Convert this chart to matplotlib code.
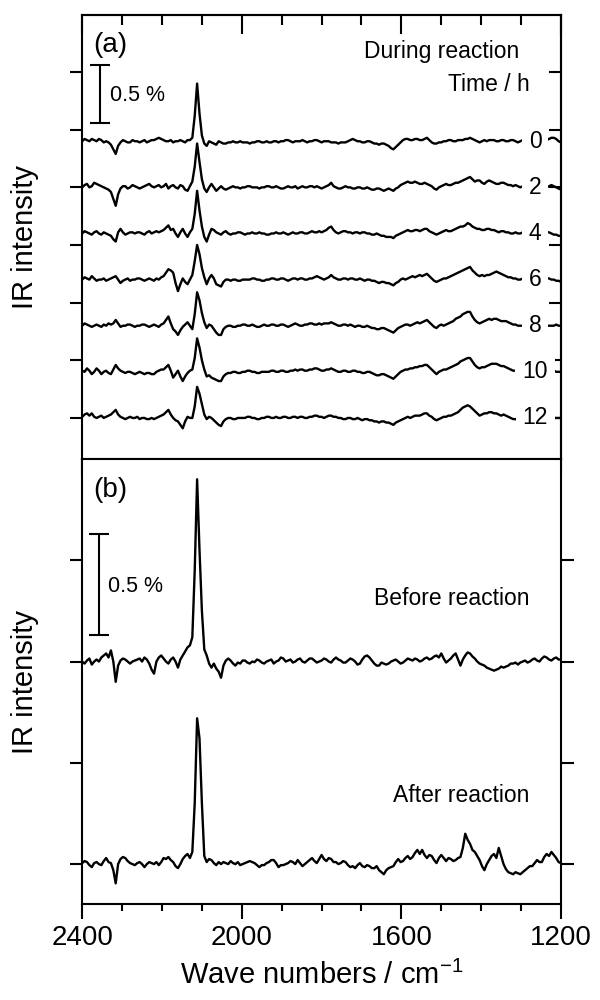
import numpy as np
import matplotlib
matplotlib.use('Agg')
import matplotlib.pyplot as plt
from matplotlib.ticker import MultipleLocator, FixedLocator

plt.rcParams['font.family'] = ['Liberation Sans', 'DejaVu Sans']
plt.rcParams['mathtext.default'] = 'regular'

# wave number grid (cm-1), one point every 6 cm-1
wn = np.arange(2400, 1199, -6)

times = ['0', '2', '4', '6', '8', '10', '12']

# panel (a): IR intensity (%) during reaction
trace_0 = [0.00, 0.02, 0.01, 0.00, 0.02, 0.01, 0.00, 0.02, 0.01, -0.01,
           0.00, -0.01, -0.03, -0.07, -0.11, -0.04, -0.01, 0.01, 0.00, -0.01,
           -0.01, 0.01, 0.00, 0.00, -0.01, 0.00, 0.01, -0.01, 0.00, 0.01,
           0.01, 0.02, 0.03, 0.02, 0.01, 0.00, 0.00, 0.01, -0.01, 0.00,
           0.00, 0.01, 0.00, -0.01, 0.01, 0.01, 0.03, 0.22, 0.50, 0.24,
           0.05, -0.02, -0.04, 0.00, -0.01, -0.02, -0.03, 0.00, -0.01, -0.02,
           -0.02, -0.01, -0.01, 0.00, -0.01, -0.01, 0.00, -0.01, -0.01, -0.01,
           -0.02, -0.01, -0.01, 0.00, 0.00, -0.01, -0.01, 0.00, -0.01, -0.01,
           0.00, 0.00, -0.01, 0.00, 0.00, 0.01, 0.01, 0.00, -0.01, 0.00,
           0.00, 0.00, 0.01, 0.00, -0.01, 0.00, 0.00, 0.01, 0.01, 0.00,
           -0.01, 0.00, 0.00, 0.00, -0.01, -0.01, -0.01, -0.02, -0.01, -0.01,
           -0.01, 0.00, 0.01, 0.02, 0.01, 0.00, 0.00, -0.01, -0.01, 0.00,
           0.00, -0.01, -0.02, -0.02, -0.03, -0.02, -0.02, -0.03, -0.04, -0.06,
           -0.07, -0.05, -0.03, -0.01, 0.01, 0.02, 0.02, 0.01, 0.01, 0.02,
           0.02, 0.01, 0.01, 0.02, 0.03, 0.01, -0.01, -0.02, -0.02, -0.01,
           -0.01, 0.00, 0.00, 0.01, 0.01, 0.00, 0.00, 0.01, 0.01, 0.01,
           0.02, 0.02, 0.03, 0.02, 0.01, 0.00, -0.01, 0.00, 0.01, 0.00,
           0.01, 0.01, 0.01, 0.00, 0.00, 0.01, 0.01, 0.00, 0.00, 0.01,
           0.01, 0.00, -0.01, 0.00, 0.01, 0.01, 0.00, -0.01, 0.00, 0.01,
           0.00, 0.00, 0.01, 0.00, 0.01, 0.02, 0.03, 0.03, 0.02, 0.00,
           -0.01]
trace_2 = [0.00, 0.02, 0.03, 0.00, 0.01, 0.04, 0.03, 0.02, 0.01, 0.00,
           -0.01, -0.02, -0.04, -0.10, -0.16, -0.06, -0.01, 0.01, 0.01, -0.01,
           0.00, 0.02, 0.01, 0.00, -0.01, 0.00, 0.01, 0.02, 0.03, 0.01,
           0.00, 0.01, 0.02, 0.00, 0.01, 0.03, -0.01, 0.01, 0.02, 0.00,
           -0.01, 0.02, 0.01, -0.02, -0.03, 0.01, 0.05, 0.18, 0.38, 0.22,
           0.07, -0.01, -0.04, 0.00, 0.03, 0.00, -0.03, -0.01, 0.01, -0.01,
           -0.02, -0.01, 0.00, 0.01, 0.00, 0.00, -0.01, 0.00, 0.00, 0.01,
           0.01, 0.00, 0.00, 0.00, -0.01, 0.00, 0.00, 0.01, 0.01, 0.00,
           0.00, 0.01, 0.00, -0.01, -0.01, 0.00, 0.01, 0.00, 0.00, 0.01,
           -0.01, 0.00, 0.01, 0.00, 0.00, 0.01, 0.01, 0.00, 0.01, 0.00,
           -0.01, 0.00, 0.01, 0.02, 0.04, 0.01, 0.00, -0.01, -0.01, 0.00,
           0.01, 0.00, 0.00, -0.01, -0.01, 0.00, 0.00, -0.01, -0.01, 0.00,
           -0.01, -0.02, -0.02, -0.01, -0.01, -0.02, -0.03, -0.02, -0.01, -0.02,
           -0.03, -0.01, 0.00, 0.02, 0.03, 0.04, 0.05, 0.04, 0.04, 0.05,
           0.04, 0.03, 0.03, 0.04, 0.03, 0.02, 0.01, -0.01, -0.02, 0.00,
           0.01, 0.02, 0.03, 0.02, 0.02, 0.03, 0.04, 0.04, 0.05, 0.06,
           0.07, 0.08, 0.09, 0.07, 0.05, 0.06, 0.06, 0.04, 0.03, 0.05,
           0.06, 0.05, 0.04, 0.03, 0.03, 0.04, 0.04, 0.03, 0.02, 0.02,
           0.01, 0.02, 0.01, 0.00, 0.01, 0.00, -0.01, 0.00, 0.01, 0.00,
           0.00, 0.01, 0.00, -0.01, 0.00, 0.01, 0.02, 0.01, 0.00, -0.01,
           -0.02]
trace_4 = [0.00, 0.02, 0.01, 0.00, -0.01, 0.01, 0.02, 0.00, -0.01, 0.01,
           0.00, -0.01, -0.02, -0.05, -0.07, 0.01, 0.04, 0.01, -0.01, 0.00,
           0.01, 0.01, 0.00, 0.01, 0.01, 0.00, -0.01, 0.01, 0.02, 0.00,
           0.01, 0.02, 0.01, 0.02, 0.03, 0.05, 0.07, 0.03, 0.04, 0.00,
           -0.03, 0.01, 0.04, 0.00, -0.03, 0.01, 0.04, 0.17, 0.37, 0.20,
           0.06, -0.03, -0.07, -0.01, 0.04, 0.03, 0.01, 0.00, -0.01, 0.01,
           0.02, 0.00, -0.01, 0.00, 0.00, 0.01, 0.01, 0.00, -0.01, 0.00,
           0.00, 0.01, 0.00, 0.00, 0.01, 0.00, 0.00, -0.01, -0.01, 0.00,
           0.00, 0.01, 0.00, 0.00, 0.01, 0.00, -0.01, 0.00, 0.01, 0.00,
           0.00, 0.01, 0.01, 0.00, 0.00, 0.01, 0.02, 0.01, 0.01, 0.02,
           0.01, 0.02, 0.03, 0.05, 0.06, 0.03, 0.01, 0.00, 0.01, 0.02,
           0.02, 0.01, 0.01, 0.00, 0.01, 0.01, 0.00, 0.01, 0.01, 0.00,
           0.00, -0.01, -0.01, 0.00, -0.01, -0.02, -0.02, -0.03, -0.03, -0.03,
           -0.04, -0.02, -0.01, 0.00, 0.01, 0.02, 0.03, 0.02, 0.02, 0.03,
           0.03, 0.02, 0.03, 0.04, 0.04, 0.02, 0.01, 0.00, -0.01, 0.00,
           0.01, 0.02, 0.03, 0.02, 0.02, 0.03, 0.04, 0.05, 0.06, 0.06,
           0.07, 0.09, 0.08, 0.06, 0.05, 0.04, 0.04, 0.03, 0.03, 0.04,
           0.04, 0.03, 0.03, 0.02, 0.01, 0.02, 0.02, 0.01, 0.01, 0.00,
           0.00, 0.01, 0.00, 0.00, 0.01, 0.00, 0.00, 0.01, 0.00, -0.01,
           0.00, 0.01, 0.00, 0.00, 0.01, 0.01, 0.00, -0.01, -0.01, -0.02,
           -0.02]
trace_6 = [0.00, 0.02, 0.01, 0.00, 0.03, 0.01, -0.01, 0.00, 0.00, 0.01,
           -0.01, 0.00, 0.01, 0.02, 0.03, 0.00, -0.03, -0.01, 0.00, 0.01,
           -0.01, 0.00, 0.00, 0.01, 0.01, 0.00, -0.01, 0.00, 0.01, 0.00,
           -0.01, 0.01, 0.00, 0.02, 0.03, 0.06, 0.09, 0.08, 0.06, -0.03,
           -0.10, -0.04, 0.01, -0.02, -0.04, 0.00, 0.04, 0.16, 0.30, 0.22,
           0.10, 0.02, -0.04, 0.01, 0.04, 0.01, -0.04, -0.05, -0.06, -0.02,
           0.00, 0.00, -0.01, 0.00, 0.00, -0.01, -0.01, 0.00, 0.00, 0.00,
           0.00, 0.01, 0.01, 0.00, 0.00, -0.01, -0.01, 0.00, 0.00, 0.01,
           0.01, 0.00, 0.00, 0.01, 0.01, 0.00, -0.01, 0.00, 0.01, 0.01,
           0.00, 0.01, 0.01, 0.00, 0.00, 0.01, 0.01, 0.02, 0.03, 0.02,
           0.01, 0.00, 0.01, 0.02, 0.04, 0.02, 0.01, 0.00, 0.00, 0.01,
           0.01, 0.00, 0.01, 0.01, 0.00, 0.00, 0.01, 0.00, -0.01, 0.00,
           0.00, -0.01, -0.01, -0.02, -0.03, -0.02, -0.02, -0.03, -0.03, -0.04,
           -0.05, -0.03, -0.02, 0.00, 0.01, 0.00, 0.01, 0.02, 0.03, 0.02,
           0.03, 0.04, 0.03, 0.04, 0.05, 0.03, 0.01, -0.01, -0.02, -0.01,
           0.00, 0.01, 0.01, 0.02, 0.03, 0.04, 0.05, 0.06, 0.07, 0.08,
           0.09, 0.10, 0.11, 0.08, 0.06, 0.04, 0.03, 0.04, 0.03, 0.04,
           0.04, 0.05, 0.06, 0.07, 0.06, 0.05, 0.04, 0.03, 0.02, 0.02,
           0.01, 0.01, 0.00, 0.00, 0.01, 0.00, -0.01, 0.00, 0.01, 0.00,
           -0.01, 0.00, 0.01, 0.00, 0.01, 0.01, 0.00, 0.00, -0.01, -0.01,
           -0.02]
trace_8 = [0.00, 0.02, 0.01, 0.00, -0.01, 0.00, 0.01, 0.00, -0.01, 0.01,
           0.00, 0.02, 0.01, 0.02, 0.05, 0.02, -0.01, 0.00, 0.00, 0.01,
           0.01, 0.00, -0.01, 0.00, 0.00, 0.01, 0.01, 0.00, -0.01, 0.00,
           0.01, 0.00, -0.01, 0.01, 0.02, 0.05, 0.08, 0.02, -0.03, -0.05,
           -0.08, -0.04, -0.01, 0.01, 0.03, 0.00, -0.03, 0.10, 0.29, 0.22,
           0.11, 0.03, -0.02, 0.01, 0.00, -0.03, -0.06, -0.08, -0.08, -0.03,
           -0.01, 0.00, 0.00, -0.01, -0.01, 0.00, 0.00, 0.01, 0.01, 0.00,
           0.00, 0.01, 0.00, -0.01, -0.01, 0.00, 0.01, 0.00, 0.00, 0.01,
           0.01, 0.00, 0.00, 0.01, 0.01, 0.00, -0.01, 0.00, 0.01, 0.02,
           0.01, 0.00, 0.00, 0.01, 0.01, 0.02, 0.02, 0.01, 0.01, 0.02,
           0.01, 0.02, 0.02, 0.02, 0.03, 0.02, 0.01, 0.00, 0.00, 0.01,
           0.01, 0.00, 0.01, 0.00, -0.01, 0.00, 0.00, -0.01, -0.01, 0.00,
           -0.01, -0.02, -0.02, -0.03, -0.03, -0.02, -0.02, -0.03, -0.04, -0.05,
           -0.06, -0.04, -0.02, -0.01, 0.00, 0.01, 0.01, 0.00, 0.01, 0.02,
           0.03, 0.02, 0.03, 0.04, 0.05, 0.03, 0.01, -0.01, -0.02, 0.00,
           0.01, 0.00, 0.01, 0.02, 0.03, 0.04, 0.06, 0.07, 0.08, 0.10,
           0.11, 0.12, 0.12, 0.08, 0.05, 0.03, 0.02, 0.03, 0.04, 0.05,
           0.06, 0.05, 0.06, 0.06, 0.05, 0.04, 0.04, 0.04, 0.03, 0.02,
           0.01, 0.01, 0.00, 0.00, 0.00, 0.01, 0.00, -0.01, 0.00, 0.00,
           0.01, 0.00, 0.00, 0.01, 0.00, 0.00, 0.00, 0.00, 0.01, 0.00,
           0.00]
trace_10 = [0.01, 0.00, 0.03, 0.01, -0.02, 0.00, 0.03, 0.01, -0.02, 0.00,
            0.01, -0.01, -0.02, 0.02, 0.06, 0.03, 0.01, 0.00, -0.01, 0.00,
            0.00, -0.01, -0.02, -0.01, 0.00, -0.01, -0.02, -0.01, -0.01, -0.02,
            -0.02, 0.00, 0.01, 0.02, 0.02, 0.04, 0.06, 0.01, -0.05, -0.02,
            0.01, -0.04, -0.08, -0.04, -0.01, 0.01, 0.02, 0.12, 0.29, 0.21,
            0.10, 0.02, -0.04, -0.03, -0.05, -0.06, -0.07, -0.08, -0.08, -0.04,
            -0.02, -0.01, -0.01, 0.00, 0.00, -0.01, -0.01, 0.00, 0.00, 0.01,
            0.01, 0.00, 0.00, -0.01, -0.01, 0.00, 0.00, 0.00, 0.00, 0.01,
            0.01, 0.00, 0.00, 0.01, 0.01, 0.00, 0.00, 0.01, 0.01, 0.02,
            0.01, 0.02, 0.02, 0.01, 0.01, 0.02, 0.02, 0.03, 0.03, 0.02,
            0.01, 0.01, 0.02, 0.02, 0.03, 0.02, 0.01, 0.00, 0.00, 0.01,
            0.01, 0.00, 0.00, 0.01, 0.01, 0.00, 0.00, -0.01, -0.01, 0.00,
            0.00, -0.01, -0.02, -0.03, -0.03, -0.02, -0.02, -0.03, -0.04, -0.05,
            -0.06, -0.04, -0.02, 0.00, 0.01, 0.02, 0.02, 0.03, 0.03, 0.04,
            0.04, 0.05, 0.05, 0.06, 0.06, 0.04, 0.02, 0.00, -0.02, 0.00,
            0.01, 0.02, 0.02, 0.03, 0.04, 0.05, 0.06, 0.07, 0.09, 0.10,
            0.11, 0.12, 0.12, 0.09, 0.06, 0.04, 0.03, 0.04, 0.04, 0.05,
            0.06, 0.07, 0.07, 0.07, 0.06, 0.05, 0.05, 0.04, 0.03, 0.02,
            0.01, 0.01, 0.00, 0.00, 0.00, 0.01, 0.00, -0.01, 0.00, 0.00,
            0.01, 0.00, 0.00, 0.01, 0.00, 0.00, 0.00, 0.01, 0.00, 0.00,
            0.00]
trace_12 = [0.01, 0.03, 0.04, 0.02, 0.04, 0.01, 0.00, 0.01, 0.02, 0.00,
            0.01, 0.02, 0.03, 0.05, 0.07, 0.03, 0.01, 0.00, -0.01, 0.00,
            0.01, 0.00, 0.00, 0.01, -0.01, 0.00, 0.00, -0.01, -0.01, 0.00,
            -0.01, 0.00, 0.01, 0.02, 0.03, 0.05, 0.07, 0.03, 0.00, -0.02,
            -0.03, -0.06, -0.09, -0.03, 0.01, 0.00, 0.00, 0.10, 0.27, 0.21,
            0.12, 0.03, -0.01, 0.01, 0.00, -0.02, -0.04, -0.06, -0.07, -0.03,
            -0.01, 0.00, 0.00, -0.01, -0.01, 0.00, 0.00, 0.00, 0.00, 0.01,
            0.01, 0.00, 0.00, -0.01, -0.01, 0.00, 0.00, 0.01, 0.01, 0.00,
            0.00, 0.01, 0.00, 0.00, 0.01, 0.01, 0.00, 0.00, 0.01, 0.01,
            0.00, 0.01, 0.01, 0.00, 0.00, 0.01, 0.01, 0.02, 0.02, 0.01,
            0.01, 0.00, 0.01, 0.02, 0.02, 0.01, 0.01, 0.00, 0.00, -0.01,
            -0.01, 0.00, 0.00, -0.01, -0.01, 0.00, -0.01, -0.02, -0.01, -0.01,
            -0.02, -0.02, -0.03, -0.03, -0.04, -0.03, -0.03, -0.04, -0.04, -0.05,
            -0.06, -0.04, -0.03, -0.02, -0.01, 0.00, 0.01, 0.00, 0.01, 0.02,
            0.02, 0.02, 0.03, 0.04, 0.04, 0.02, 0.01, -0.01, -0.02, -0.01,
            0.00, 0.01, 0.01, 0.02, 0.02, 0.03, 0.04, 0.05, 0.07, 0.09,
            0.10, 0.11, 0.10, 0.08, 0.06, 0.04, 0.02, 0.03, 0.04, 0.04,
            0.05, 0.05, 0.04, 0.04, 0.03, 0.02, 0.03, 0.02, 0.01, 0.00,
            -0.01, -0.01, -0.02, -0.02, -0.01, -0.01, 0.00, -0.01, 0.00, 0.00,
            0.01, 0.00, 0.00, 0.01, 0.00, 0.00, 0.00, 0.00, 0.00, 0.00,
            0.00]

# panel (b): before / after reaction
before = [0.000, -0.010, 0.005, 0.015, -0.015, 0.000, 0.010, 0.000, 0.020, 0.030,
          0.040, 0.020, 0.055, 0.000, -0.100, -0.020, 0.005, 0.015, 0.010, 0.000,
          -0.010, 0.000, 0.005, 0.010, 0.015, 0.000, 0.020, 0.010, -0.010, -0.040,
          -0.060, 0.000, 0.020, 0.030, 0.015, 0.000, -0.010, 0.010, 0.020, 0.000,
          -0.030, 0.010, 0.030, 0.050, 0.070, 0.080, 0.120, 0.450, 0.900, 0.550,
          0.250, 0.060, 0.030, -0.010, -0.030, -0.010, -0.035, -0.050, -0.080, -0.020,
          0.005, 0.015, 0.005, -0.010, -0.020, -0.005, -0.010, 0.005, 0.005, -0.005,
          -0.010, 0.000, -0.003, 0.010, 0.005, -0.005, -0.010, 0.000, 0.005, 0.010,
          -0.010, 0.000, 0.005, 0.020, 0.015, 0.000, 0.005, 0.010, -0.005, 0.000,
          0.010, 0.015, 0.000, -0.005, 0.005, 0.015, 0.015, 0.005, -0.005, 0.000,
          0.005, 0.015, 0.010, 0.000, -0.005, 0.010, 0.020, 0.010, 0.005, -0.005,
          -0.005, 0.005, 0.015, 0.010, 0.000, -0.015, -0.010, 0.010, 0.025, 0.030,
          0.020, 0.005, -0.010, -0.020, -0.020, -0.005, -0.010, -0.015, -0.010, 0.000,
          0.005, 0.010, 0.000, -0.010, -0.005, 0.005, 0.015, 0.010, 0.005, 0.015,
          0.010, 0.000, 0.005, 0.015, 0.020, 0.010, 0.015, 0.025, 0.030, 0.020,
          0.040, 0.015, -0.005, 0.005, 0.015, 0.030, 0.040, 0.010, -0.020, 0.010,
          0.030, 0.045, 0.040, 0.025, 0.015, 0.000, -0.010, -0.015, -0.020, -0.030,
          -0.035, -0.040, -0.045, -0.040, -0.035, -0.025, -0.030, -0.025, -0.020, -0.010,
          -0.010, -0.005, -0.015, -0.005, 0.000, 0.005, -0.005, 0.000, 0.010, 0.015,
          0.005, 0.000, 0.015, 0.025, 0.020, 0.010, 0.005, 0.015, 0.020, 0.010,
          0.010]
after = [0.005, 0.015, 0.010, -0.005, -0.015, 0.005, 0.010, 0.000, -0.005, 0.015,
         0.030, 0.010, 0.005, -0.030, -0.095, 0.000, 0.025, 0.035, 0.030, 0.015,
         0.005, 0.000, -0.005, 0.005, 0.010, 0.000, -0.015, 0.000, 0.010, 0.005,
         0.000, 0.010, -0.005, 0.010, 0.030, 0.025, 0.035, 0.020, 0.010, -0.010,
         -0.020, 0.000, 0.025, 0.040, 0.050, 0.030, 0.060, 0.300, 0.720, 0.620,
         0.300, 0.040, 0.010, 0.025, 0.020, 0.005, -0.005, 0.010, 0.000, 0.010,
         0.005, 0.000, 0.015, 0.005, 0.000, 0.010, -0.005, 0.000, 0.005, 0.010,
         0.015, 0.010, 0.005, -0.005, -0.015, -0.005, -0.005, 0.005, 0.010, 0.020,
         0.020, 0.005, -0.015, -0.005, -0.005, 0.000, 0.005, 0.015, 0.010, 0.000,
         0.020, 0.005, -0.010, 0.000, 0.010, 0.020, 0.030, 0.015, 0.005, 0.025,
         0.045, 0.025, 0.015, 0.030, 0.025, 0.010, 0.010, 0.000, 0.005, 0.015,
         0.010, -0.005, -0.015, -0.010, -0.020, -0.005, 0.005, -0.010, -0.015, -0.005,
         -0.010, -0.020, -0.020, -0.010, -0.030, -0.040, -0.050, -0.030, -0.020, -0.015,
         -0.010, 0.010, 0.025, 0.010, 0.015, 0.030, 0.040, 0.025, 0.035, 0.055,
         0.070, 0.050, 0.070, 0.045, 0.030, 0.045, 0.040, 0.020, 0.005, 0.030,
         0.045, 0.030, 0.015, 0.030, 0.025, 0.015, 0.020, 0.030, 0.035, 0.080,
         0.150, 0.120, 0.100, 0.070, 0.060, 0.040, 0.020, -0.010, -0.030, 0.000,
         0.020, 0.040, 0.050, 0.030, 0.080, 0.040, 0.000, -0.025, -0.040, -0.045,
         -0.050, -0.040, -0.045, -0.050, -0.040, -0.030, -0.020, -0.010, -0.010, 0.005,
         0.020, 0.010, 0.010, 0.035, 0.050, 0.040, 0.060, 0.045, 0.030, 0.010,
         0.005]

fig = plt.figure(figsize=(6, 10), dpi=100)
ax_a = fig.add_axes([0.137, 0.541, 0.798, 0.444])
ax_b = fig.add_axes([0.137, 0.096, 0.798, 0.445])

# stacked spectra, 0 h on top; time labels sit on a white box over the traces
spectra_a = [trace_0, trace_2, trace_4, trace_6, trace_8, trace_10, trace_12]
for i, (lab, y) in enumerate(zip(times, spectra_a)):
    off = 0.4 * (len(times) - 1 - i)
    ax_a.plot(wn, np.array(y) + off, color='k', lw=1.7)
    ax_a.text(1265, off, lab, ha='center', va='center', fontsize=16.5, zorder=5,
              bbox=dict(boxstyle='square,pad=0.3', fc='white', ec='none'))

ax_b.plot(wn, np.array(before) + 1.0, color='k', lw=1.7)
ax_b.plot(wn, np.array(after), color='k', lw=1.7)

ax_a.set_ylim(-0.356, 3.495)
ax_b.set_ylim(-0.197, 2.0)

for ax in (ax_a, ax_b):
    ax.set_xlim(2400, 1200)
    ax.xaxis.set_major_locator(MultipleLocator(400))
    ax.xaxis.set_minor_locator(MultipleLocator(100))
    ax.tick_params(axis='y', which='major', direction='out', left=True, right=True,
                   length=9, width=1.5, labelleft=False)
    ax.tick_params(axis='x', which='major', direction='out', length=11, width=1.5)
    ax.tick_params(axis='x', which='minor', direction='out', length=5, width=1.5)
    for s in ax.spines.values():
        s.set_linewidth(1.5)
    ax.set_ylabel('IR intensity', fontsize=21, labelpad=22)

ax_a.yaxis.set_major_locator(MultipleLocator(0.5))
ax_b.yaxis.set_major_locator(FixedLocator([0, 0.5, 1.0, 1.5]))
ax_a.tick_params(axis='x', labelbottom=False)

# panel (a): right ticks point inwards, top ticks point inwards
ax_a.tick_params(axis='y', right=False)
right = ax_a.secondary_yaxis('right')
right.yaxis.set_major_locator(MultipleLocator(0.5))
right.tick_params(axis='y', direction='in', length=9, width=1.5, labelright=False)
right.spines['right'].set_linewidth(1.5)

top = ax_a.secondary_xaxis('top')
top.xaxis.set_major_locator(MultipleLocator(400))
top.xaxis.set_minor_locator(MultipleLocator(100))
top.tick_params(axis='x', which='major', direction='in', length=14, width=1.5, labeltop=False)
top.tick_params(axis='x', which='minor', direction='in', length=7, width=1.5)
top.spines['top'].set_linewidth(1.5)

ax_b.tick_params(axis='x', labelsize=20, pad=4)
ax_b.set_xlabel('Wave numbers / cm$^{-1}$', fontsize=21, labelpad=7)

# scale bars
ax_a.errorbar([2355], [2.81], yerr=0.25, color='k', lw=1.5, capsize=7, capthick=1.5)
ax_a.text(2330, 2.80, '0.5 %', fontsize=15.5, va='center')
ax_b.errorbar([2357], [1.38], yerr=0.25, color='k', lw=1.5, capsize=7, capthick=1.5)
ax_b.text(2335, 1.37, '0.5 %', fontsize=15.5, va='center')

ax_a.text(2372, 3.235, '(a)', fontsize=20, va='center')
ax_a.text(1305, 3.18, 'During reaction', fontsize=16.5, ha='right', va='center')
ax_a.text(1278, 2.89, 'Time / h', fontsize=16.5, ha='right', va='center')

ax_b.text(2372, 1.845, '(b)', fontsize=20, va='center')
ax_b.text(1278, 1.31, 'Before reaction', fontsize=16.5, ha='right', va='center')
ax_b.text(1280, 0.34, 'After reaction', fontsize=16.5, ha='right', va='center')

fig.savefig('out.png', dpi=100)
